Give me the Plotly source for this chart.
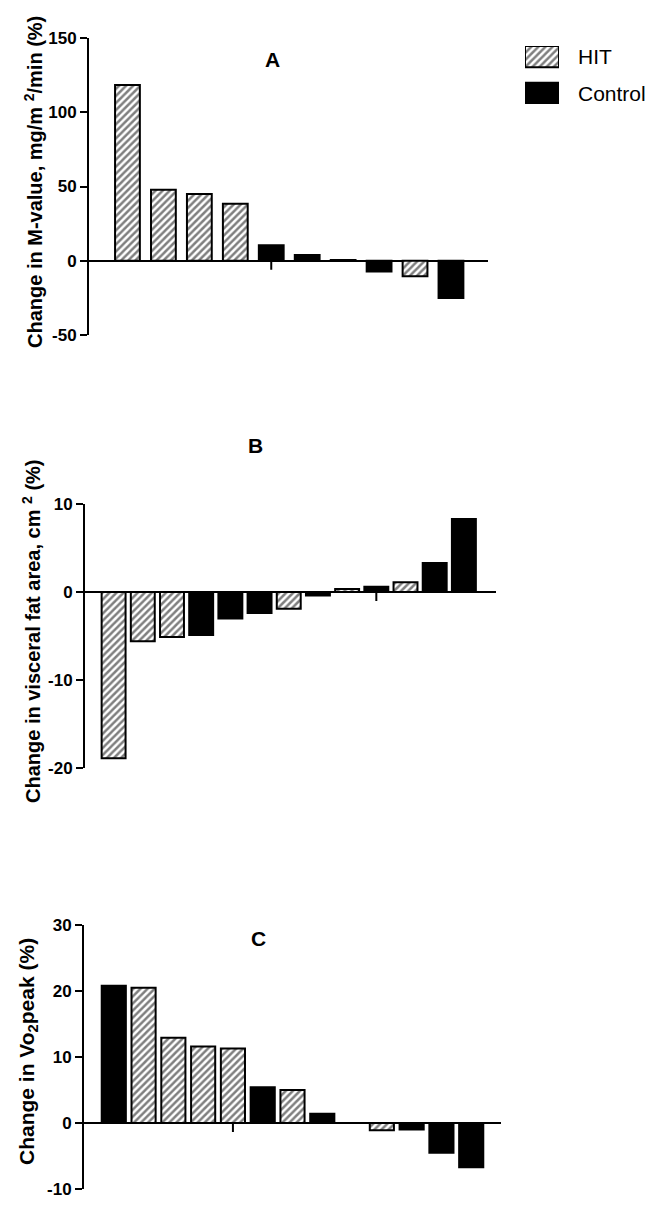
import plotly.graph_objects as go

# Panel A: change in M-value (%)
a_values = [118.4, 47.8, 45.0, 38.4, 10.5, 3.8, 0.5, -7.2, -10.5, -25.0]
a_groups = ["HIT", "HIT", "HIT", "HIT", "Control", "Control", "Control", "Control", "HIT", "Control"]
a_ticks = [-50, 0, 50, 100, 150]

# Panel B: change in visceral fat area (%)
b_values = [-18.9, -5.6, -5.1, -4.9, -3.0, -2.4, -1.9, -0.4, 0.35, 0.6, 1.1, 3.3, 8.3]
b_groups = ["HIT", "HIT", "HIT", "Control", "Control", "Control", "HIT", "Control", "HIT",
            "Control", "HIT", "Control", "Control"]
b_ticks = [-20, -10, 0, 10]

# Panel C: change in VO2peak (%)
c_values = [20.8, 20.5, 12.9, 11.6, 11.3, 5.4, 5.0, 1.4, 0.0, -1.1, -1.0, -4.5, -6.7]
c_groups = ["Control", "HIT", "HIT", "HIT", "HIT", "Control", "HIT", "Control", "HIT",
            "HIT", "Control", "Control", "Control"]
c_ticks = [-10, 0, 10, 20, 30]

legend_labels = ["HIT", "Control"]

# the page body has an 8px margin, so the figure is a bit smaller than the window
PAGE_MARGIN = 8
W, H = 666 - PAGE_MARGIN, 1210 - PAGE_MARGIN
FONT = "Liberation Sans, Arial, Helvetica, sans-serif"


def px_x(x):
    return (x - PAGE_MARGIN) / W


def px_y(y):
    return 1 - (y - PAGE_MARGIN) / H


def bar_marker(group):
    if group == "HIT":
        return dict(
            color="white",
            pattern=dict(shape="/", fgcolor="black", bgcolor="white", size=5, solidity=0.5),
            line=dict(color="black", width=2),
        )
    return dict(color="black", line=dict(color="black", width=2))


panels = [
    dict(values=a_values, groups=a_groups, ticks=a_ticks, yrange=[-50, 150], xrange=[-0.07, 11.03],
         width=0.69, xdom=(89, 488), ydom=(335, 38), mid_tick=5, letter="A", letter_pos=(272, 60),
         title="Change in M-value, mg/m <sup>2</sup>/min (%)", title_pos=(34, 182), title_size=20),
    dict(values=b_values, groups=b_groups, ticks=b_ticks, yrange=[-20, 10], xrange=[0.02, 14.1],
         width=0.82, xdom=(85, 496), ydom=(768, 504), mid_tick=10, letter="B", letter_pos=(255, 445),
         title="Change in visceral fat area, cm <sup>2</sup> (%)", title_pos=(31, 631), title_size=20),
    dict(values=c_values, groups=c_groups, ticks=c_ticks, yrange=[-10, 30], xrange=[0.0, 14.0],
         width=0.81, xdom=(84, 501), ydom=(1189, 925), mid_tick=5, letter="C", letter_pos=(258, 938),
         title="Change in Vo<sub>2</sub>peak (%)", title_pos=(28, 1052), title_size=21),
]

fig = go.Figure()
annotations = []

for i, p in enumerate(panels, start=1):
    suffix = "" if i == 1 else str(i)
    xa, ya = "x" + suffix, "y" + suffix
    for group in ("HIT", "Control"):
        xs = [k + 1 for k, g in enumerate(p["groups"]) if g == group]
        ys = [v for v, g in zip(p["values"], p["groups"]) if g == group]
        fig.add_trace(go.Bar(x=xs, y=ys, width=p["width"], xaxis=xa, yaxis=ya,
                             marker=bar_marker(group), showlegend=False))

    fig.update_layout(**{
        "xaxis" + suffix: dict(domain=[px_x(p["xdom"][0]), px_x(p["xdom"][1])], range=p["xrange"],
                               anchor=ya, visible=False, fixedrange=True, automargin=False),
        "yaxis" + suffix: dict(domain=[px_y(p["ydom"][0]), px_y(p["ydom"][1])], range=p["yrange"],
                               anchor=xa, tickvals=p["ticks"], ticktext=[str(t) for t in p["ticks"]],
                               ticks="outside", ticklen=7, tickwidth=2, tickcolor="black",
                               showline=True, linecolor="black", linewidth=2,
                               zeroline=True, zerolinecolor="black", zerolinewidth=2,
                               showgrid=False, fixedrange=True, automargin=False,
                               tickfont=dict(family=FONT, size=17, color="black", weight="bold")),
    })

    # single tick mark on the zero line
    fig.add_shape(type="line", xref=xa, yref=ya, x0=p["mid_tick"], x1=p["mid_tick"],
                  ysizemode="pixel", yanchor=0, y0=0, y1=-9,
                  line=dict(color="black", width=2))

    annotations.append(dict(text="<b>%s</b>" % p["letter"], xref="paper", yref="paper",
                            x=px_x(p["letter_pos"][0]), y=px_y(p["letter_pos"][1]),
                            xanchor="center", yanchor="middle",
                            showarrow=False, font=dict(family=FONT, size=21, color="black")))
    annotations.append(dict(text="<b>%s</b>" % p["title"], xref="paper", yref="paper",
                            x=px_x(p["title_pos"][0]), y=px_y(p["title_pos"][1]), textangle=-90,
                            xanchor="center", yanchor="middle",
                            showarrow=False, font=dict(family=FONT, size=p["title_size"], color="black")))

# legend swatches on their own little axis
fig.add_trace(go.Bar(x=[1], y=[1], orientation="h", width=0.58, xaxis="x4", yaxis="y4",
                     marker=bar_marker("HIT"), showlegend=False))
fig.add_trace(go.Bar(x=[1], y=[0], orientation="h", width=0.58, xaxis="x4", yaxis="y4",
                     marker=bar_marker("Control"), showlegend=False))
fig.update_layout(
    xaxis4=dict(domain=[px_x(525), px_x(559)], range=[0, 1], anchor="y4", visible=False,
                fixedrange=True, automargin=False),
    yaxis4=dict(domain=[px_y(104), px_y(46)], range=[-0.29, 1.29], anchor="x4", visible=False,
                fixedrange=True, automargin=False),
)
for label, ypos in zip(legend_labels, [57, 93]):
    annotations.append(dict(text=label, xref="paper", yref="paper", x=px_x(576), y=px_y(ypos),
                            xanchor="left", yanchor="middle", showarrow=False,
                            font=dict(family=FONT, size=21, color="black")))

fig.update_layout(
    width=W, height=H,
    margin=dict(l=0, r=0, t=0, b=0, pad=0),
    barmode="overlay",
    plot_bgcolor="white", paper_bgcolor="white",
    annotations=annotations,
    showlegend=False,
)

fig.write_html("out.html")
